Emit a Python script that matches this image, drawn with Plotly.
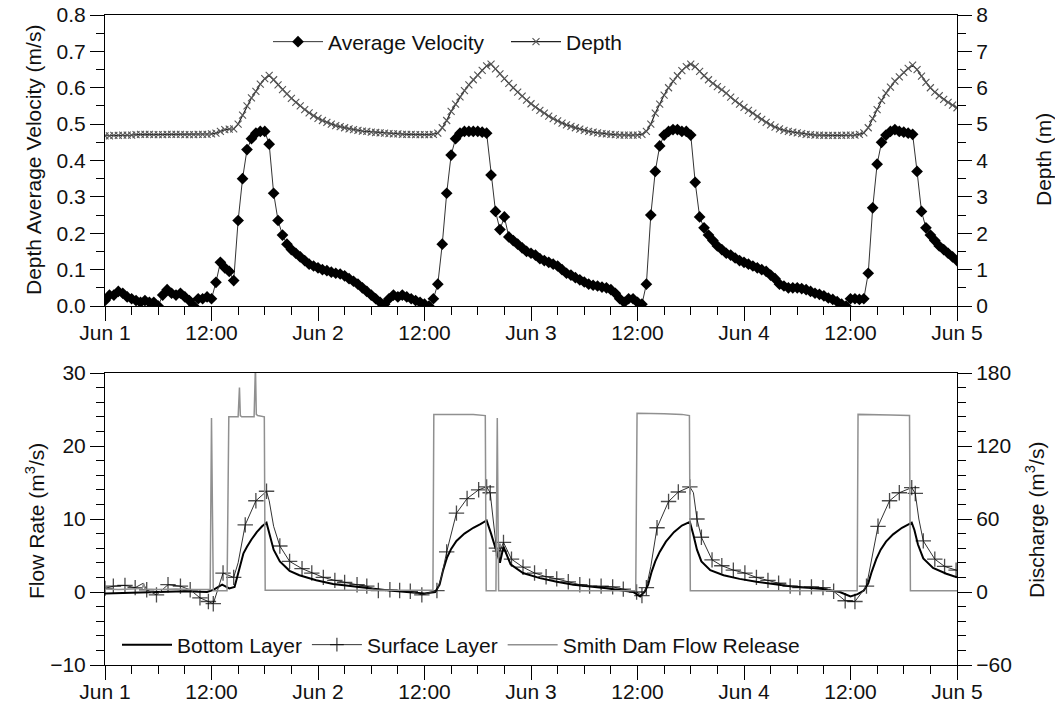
import plotly.graph_objects as go

# ---------------- data ----------------
# half-hourly time grid (hours since Jun 1 00:00)
hours = [i * 0.5 for i in range(193)]

velocity = [
    0.015, 0.03, 0.03, 0.04, 0.035, 0.025, 0.02, 0.015, 0.01, 0.015, 0.01, 0.01,
    0.0, 0.03, 0.045, 0.035, 0.03, 0.035, 0.025, 0.015, 0.0, 0.02, 0.02, 0.025,
    0.02, 0.065, 0.12, 0.105, 0.095, 0.07, 0.235, 0.35, 0.43, 0.46, 0.475, 0.48,
    0.48, 0.445, 0.31, 0.235, 0.195, 0.17, 0.155, 0.145, 0.135, 0.125, 0.115, 0.11,
    0.105, 0.10, 0.097, 0.093, 0.09, 0.088, 0.083, 0.075, 0.068, 0.06, 0.05, 0.04,
    0.03, 0.02, 0.01, 0.005, 0.02, 0.03, 0.025, 0.03, 0.025, 0.02, 0.015, 0.01,
    0.005, 0.0, 0.02, 0.06, 0.17, 0.31, 0.415, 0.46, 0.475, 0.48, 0.48, 0.48,
    0.48, 0.478, 0.475, 0.36, 0.26, 0.21, 0.245, 0.19, 0.18, 0.17, 0.16, 0.15,
    0.145, 0.14, 0.13, 0.125, 0.12, 0.115, 0.11, 0.10, 0.09, 0.085, 0.078, 0.072,
    0.066, 0.06, 0.057, 0.055, 0.052, 0.05, 0.045, 0.035, 0.02, 0.01, 0.02, 0.02,
    0.01, 0.005, 0.06, 0.25, 0.37, 0.44, 0.47, 0.48, 0.485, 0.485, 0.48, 0.48,
    0.47, 0.34, 0.245, 0.215, 0.195, 0.18, 0.165, 0.155, 0.145, 0.14, 0.132, 0.125,
    0.12, 0.115, 0.11, 0.105, 0.10, 0.095, 0.085, 0.075, 0.06, 0.055, 0.05, 0.05,
    0.05, 0.048, 0.045, 0.04, 0.035, 0.032, 0.028, 0.022, 0.018, 0.012, 0.005, 0.0,
    0.02, 0.02, 0.018, 0.02, 0.09, 0.27, 0.39, 0.45, 0.47, 0.48, 0.485, 0.48,
    0.478, 0.475, 0.472, 0.37, 0.26, 0.215, 0.195, 0.18, 0.165, 0.155, 0.145, 0.135,
    0.125,
]

depth = [
    4.68, 4.68, 4.69, 4.69, 4.70, 4.70, 4.70, 4.71, 4.72, 4.72, 4.72, 4.71,
    4.71, 4.71, 4.72, 4.72, 4.72, 4.72, 4.71, 4.71, 4.71, 4.72, 4.72, 4.72,
    4.73, 4.75, 4.80, 4.85, 4.86, 4.87, 5.00, 5.25, 5.50, 5.72, 5.90, 6.10,
    6.25, 6.34, 6.22, 6.08, 5.95, 5.83, 5.71, 5.60, 5.50, 5.40, 5.31, 5.23,
    5.16, 5.10, 5.05, 5.00, 4.96, 4.93, 4.90, 4.87, 4.85, 4.83, 4.81, 4.80,
    4.78, 4.77, 4.76, 4.75, 4.74, 4.73, 4.73, 4.72, 4.72, 4.72, 4.71, 4.71,
    4.71, 4.71, 4.72, 4.75, 4.90, 5.10, 5.35, 5.55, 5.75, 5.92, 6.08, 6.22,
    6.35, 6.48, 6.60, 6.65, 6.52, 6.38, 6.25, 6.12, 6.00, 5.88, 5.77, 5.66,
    5.56, 5.47, 5.38, 5.30, 5.22, 5.15, 5.09, 5.03, 4.98, 4.94, 4.90, 4.86,
    4.83, 4.80, 4.78, 4.76, 4.74, 4.73, 4.72, 4.71, 4.70, 4.70, 4.70, 4.70,
    4.70, 4.72, 4.80, 5.00, 5.30, 5.55, 5.80, 6.00, 6.18, 6.33, 6.47, 6.58,
    6.65, 6.58, 6.45, 6.33, 6.22, 6.12, 6.03, 5.95, 5.85, 5.74, 5.64, 5.55,
    5.46, 5.38, 5.30, 5.21, 5.13, 5.05, 4.98, 4.92, 4.87, 4.83, 4.80, 4.78,
    4.76, 4.74, 4.72, 4.71, 4.70, 4.70, 4.69, 4.69, 4.69, 4.69, 4.69, 4.70,
    4.70, 4.70, 4.72, 4.76, 4.90, 5.15, 5.40, 5.65, 5.85, 6.02, 6.18, 6.30,
    6.42, 6.53, 6.62, 6.50, 6.32, 6.15, 6.00, 5.88, 5.78, 5.68, 5.60, 5.52,
    5.45,
]

# Surface layer flow rate (m3/s)
surface_t = [0, 0.94, 2.25, 3.4, 4.3, 4.7, 5.8, 7.1, 8.5, 9.6, 10.7, 11.65, 12.2,
             13.3, 14.5, 15.0, 15.8, 17.0, 18.2, 18.5, 19.0, 19.7, 20.8, 22.2, 23.3,
             24.6, 25.9, 27.0, 28.4, 29.5, 30.8, 32.1, 33.2, 34.4, 35.7, 37.4, 37.9,
             38.5, 39.6, 40.8, 42.1, 43.0, 43.4, 44.1, 44.5, 44.9, 45.8, 47.1, 48.4,
             49.7, 50.9, 52.2, 53.5, 54.6, 55.9, 57.2, 58.4, 59.9, 60.5, 61.0, 61.5,
             62.2, 63.5, 64.6, 65.9, 66.3, 66.7, 67.2, 68.4, 69.5, 70.8, 72.1, 73.4, 74.7,
             75.9, 77.2, 78.3, 79.6, 80.9, 82.1, 83.4, 84.5, 85.8, 86.3, 87.1, 88.4,
             89.5, 90.9, 91.3, 91.7, 92.2, 93.5, 94.6, 95.9, 96.0]
surface_v = [0.5, 0.8, 0.9, 0.6, 1.2, 0.3, -0.4, 1.0, 0.8, 0.3, -0.8, -1.3, -1.6,
             2.6, 2.0, 4.0, 9.2, 12.5, 13.8, 12.5, 9.0, 6.3, 4.2, 3.2, 2.6,
             2.0, 1.6, 1.3, 1.0, 0.8, 0.2, 0.3, 0.2, 0.1, -0.4, 0.2, 2.0,
             5.5, 10.8, 12.8, 14.0, 14.4, 13.6, 6.0, 5.6, 6.8, 4.5, 3.4, 2.6,
             2.1, 1.8, 1.4, 1.0, 0.8, 0.8, 0.7, 0.4, 0.0, -0.5, 0.6, 3.5,
             8.8, 12.4, 13.7, 14.4, 13.6, 10.0, 7.5, 4.4, 3.6, 3.0, 2.6, 2.0, 1.6,
             1.2, 0.8, 0.6, 0.7, 0.6, 0.1, -1.2, -1.3, 0.8, 4.0, 9.0, 12.5,
             13.6, 14.3, 13.5, 10.0, 7.0, 4.5, 3.5, 3.0, 2.95]
# times on the surface curve that carry no "+" marker (line shape only)
surface_unmarked = [4.3, 15.0, 18.5, 19.0, 37.9, 61.5, 66.3, 86.3, 91.7, 96.0]

# Bottom layer flow rate (m3/s)
bottom_t = [0, 3, 6, 9, 11.5, 12.2, 13.2, 14.0, 14.6, 15.0, 15.3, 15.6, 16.0, 16.5,
            17.1, 17.7, 18.2, 18.6, 19.0, 19.7, 20.8, 21.9, 23.8, 25.7, 28.4, 30.0,
            32.0, 34.0, 36.0, 37.2, 37.7, 38.1, 38.5, 39.0, 39.6, 40.5, 41.5, 42.3,
            43.0, 43.5, 44.2, 44.5, 44.9, 45.7, 47.1, 49.0, 50.9, 52.8, 56.5, 59.5,
            60.3, 60.8, 61.2, 61.6, 62.0, 62.5, 63.2, 64.1, 65.0, 65.9, 66.3, 66.7,
            67.2, 68.2, 69.7, 71.5, 73.4, 77.2, 80.9, 82.8, 84.0, 84.8, 85.5, 86.0,
            86.4, 86.9, 87.4, 88.0, 88.8, 89.8, 90.9, 91.2, 91.6, 92.2, 93.3, 94.8,
            96.0]
bottom_v = [-0.2, -0.1, 0.0, 0.1, 0.0, 0.3, 1.0, 0.5, 0.7, 2.5, 4.2, 5.3, 6.2, 7.2,
            8.2, 9.0, 9.5, 7.5, 5.8, 4.2, 2.9, 2.3, 1.6, 1.1, 0.7, 0.4,
            0.2, 0.0, -0.2, 0.0, 1.0, 3.0, 4.6, 5.9, 7.0, 8.0, 8.8, 9.3,
            9.8, 8.0, 5.0, 4.0, 6.2, 3.8, 2.6, 1.9, 1.4, 1.0, 0.5, 0.0,
            -0.6, 0.0, 1.0, 2.8, 4.2, 5.5, 6.9, 8.2, 9.1, 9.6, 7.8, 5.8,
            4.2, 3.0, 2.3, 1.8, 1.4, 0.8, 0.4, 0.0, -0.6, -0.3, 0.2, 1.2,
            2.8, 4.5, 5.8, 6.9, 7.9, 8.8, 9.5, 8.5, 6.5, 4.6, 3.3, 2.5,
            2.0]

# Smith Dam flow release (discharge, m3/s)
release_t = [0, 1.5, 3, 4.2, 4.35, 4.5, 6, 8, 10, 11.85, 12.0, 12.2, 13.75, 13.95,
             15.0, 15.15, 15.25, 15.4, 16.8, 16.95, 17.05, 17.2, 17.95, 18.05, 24, 30,
             36.95, 37.05, 38.5, 40, 41.5, 42.85, 42.95, 44.05, 44.2, 44.35, 50, 59.8,
             59.95, 61, 63, 65, 65.85, 65.95, 75, 84.75, 84.85, 86.5, 88.5, 90.65,
             90.75, 96]
release_v = [2.5, 2.0, 2.5, 3.0, 7.0, 2.5, 2.0, 2.5, 2.0, 2.0, 143, 1.0, 1.0, 144,
             144, 168, 145, 144, 144, 186, 146, 145, 144, 1.5, 1.5, 1.5,
             1.5, 146, 146, 145.5, 146, 145, 1.0, 1.0, 143, 1.0, 1.0, 1.0,
             147, 147, 146.5, 146, 145, 1.0, 1.0, 1.0, 146, 146, 145.5, 145,
             1.0, 1.0]

x_tickvals = [0, 12, 24, 36, 48, 60, 72, 84, 96]
x_ticktext = ["Jun 1", "12:00", "Jun 2", "12:00", "Jun 3", "12:00", "Jun 4", "12:00", "Jun 5"]

# ---------------- figure ----------------
FONT = "Liberation Sans, Arial, sans-serif"
TXT = "#111111"
FS = 21

surface_sizes = [0 if t in surface_unmarked else 11 for t in surface_t]

fig = go.Figure()

fig.add_trace(go.Scatter(
    x=hours, y=velocity, name="Average Velocity", mode="lines+markers",
    line=dict(color="#333333", width=1),
    marker=dict(symbol="diamond", size=9, color="black"),
    xaxis="x", yaxis="y", legend="legend"))
fig.add_trace(go.Scatter(
    x=hours, y=depth, name="Depth", mode="lines+markers",
    line=dict(color="#222222", width=1.2),
    marker=dict(symbol="x-thin", size=7, line=dict(color="#555555", width=1.1)),
    xaxis="x", yaxis="y2", legend="legend"))

fig.add_trace(go.Scatter(
    x=release_t, y=release_v, name="Smith Dam Flow Release", mode="lines",
    line=dict(color="#909090", width=1.5),
    xaxis="x2", yaxis="y4", legend="legend2", legendrank=3))
fig.add_trace(go.Scatter(
    x=bottom_t, y=bottom_v, name="Bottom Layer", mode="lines",
    line=dict(color="black", width=2),
    xaxis="x2", yaxis="y3", legend="legend2", legendrank=1))
fig.add_trace(go.Scatter(
    x=surface_t, y=surface_v, name="Surface Layer", mode="lines+markers",
    line=dict(color="#333333", width=1),
    marker=dict(symbol="cross-thin", size=surface_sizes, line=dict(color="black", width=1.3)),
    xaxis="x2", yaxis="y3", legend="legend2", legendrank=2))

axis_common = dict(showline=True, linecolor="black", linewidth=1, ticks="outside",
                   ticklen=14, tickcolor="black", tickwidth=1, showgrid=False,
                   zeroline=False, automargin=False,
                   tickfont=dict(family=FONT, size=FS, color=TXT))

top_dom = [0.5523, 1.0]
bot_dom = [0.0, 0.4492]

x_minor = dict(dtick=3, tick0=0, ticklen=8, tickcolor="black", ticks="outside")

fig.update_layout(
    width=1055, height=707,
    margin=dict(l=105, r=98, t=15, b=42),
    paper_bgcolor="white", plot_bgcolor="white",
    font=dict(family=FONT, size=FS, color=TXT),
    xaxis=dict(domain=[0, 1], anchor="y", range=[0, 96], tickmode="array",
               tickvals=x_tickvals, ticktext=x_ticktext, mirror=True,
               ticklabelstandoff=-6, minor=x_minor, **axis_common),
    yaxis=dict(domain=top_dom, anchor="x", range=[0, 0.8], dtick=0.1, tickformat=".1f",
               minor=dict(dtick=0.05, ticklen=8, tickcolor="black", ticks="outside"),
               **axis_common),
    yaxis2=dict(overlaying="y", side="right", anchor="x", range=[0, 8], dtick=1,
                minor=dict(dtick=0.5, ticklen=8, tickcolor="black", ticks="outside"),
                **axis_common),
    xaxis2=dict(domain=[0, 1], anchor="y3", range=[0, 96], tickmode="array",
                tickvals=x_tickvals, ticktext=x_ticktext, mirror=True,
                ticklabelstandoff=-6, minor=x_minor, **axis_common),
    yaxis3=dict(domain=bot_dom, anchor="x2", range=[-10, 30], dtick=10,
                minor=dict(dtick=2, ticklen=8, tickcolor="black", ticks="outside"),
                **axis_common),
    yaxis4=dict(overlaying="y3", side="right", anchor="x2", range=[-60, 180], dtick=60,
                minor=dict(dtick=12, ticklen=8, tickcolor="black", ticks="outside"),
                **axis_common),
    legend=dict(orientation="h", x=(268 - 105) / 852, y=(665 - 42) / 650,
                xanchor="left", yanchor="middle", itemwidth=50,
                bgcolor="rgba(0,0,0,0)", font=dict(family=FONT, size=FS, color=TXT),
                entrywidth=173, entrywidthmode="pixels"),
    legend2=dict(orientation="h", x=(117 - 105) / 852, y=(665 - 645) / 650,
                 xanchor="left", yanchor="middle", itemwidth=50,
                 bgcolor="rgba(0,0,0,0)", font=dict(family=FONT, size=FS, color=TXT)),
    showlegend=True,
)

ann_font = dict(family=FONT, size=FS, color=TXT)
fig.add_annotation(text="Depth Average Velocity (m/s)", xref="paper", yref="paper",
                   x=(33 - 105) / 852, y=(665 - 160) / 650, textangle=-90,
                   showarrow=False, font=ann_font, xanchor="center", yanchor="middle")
fig.add_annotation(text="Depth (m)", xref="paper", yref="paper",
                   x=(1043 - 105) / 852, y=(665 - 160) / 650, textangle=-90,
                   showarrow=False, font=ann_font, xanchor="center", yanchor="middle")
fig.add_annotation(text="Flow Rate (m<sup>3</sup>/s)", xref="paper", yref="paper",
                   x=(35 - 105) / 852, y=(665 - 521) / 650, textangle=-90,
                   showarrow=False, font=ann_font, xanchor="center", yanchor="middle")
fig.add_annotation(text="Discharge (m<sup>3</sup>/s)", xref="paper", yref="paper",
                   x=(1035 - 105) / 852, y=(665 - 520) / 650, textangle=-90,
                   showarrow=False, font=ann_font, xanchor="center", yanchor="middle")

fig.write_html("out.html")
